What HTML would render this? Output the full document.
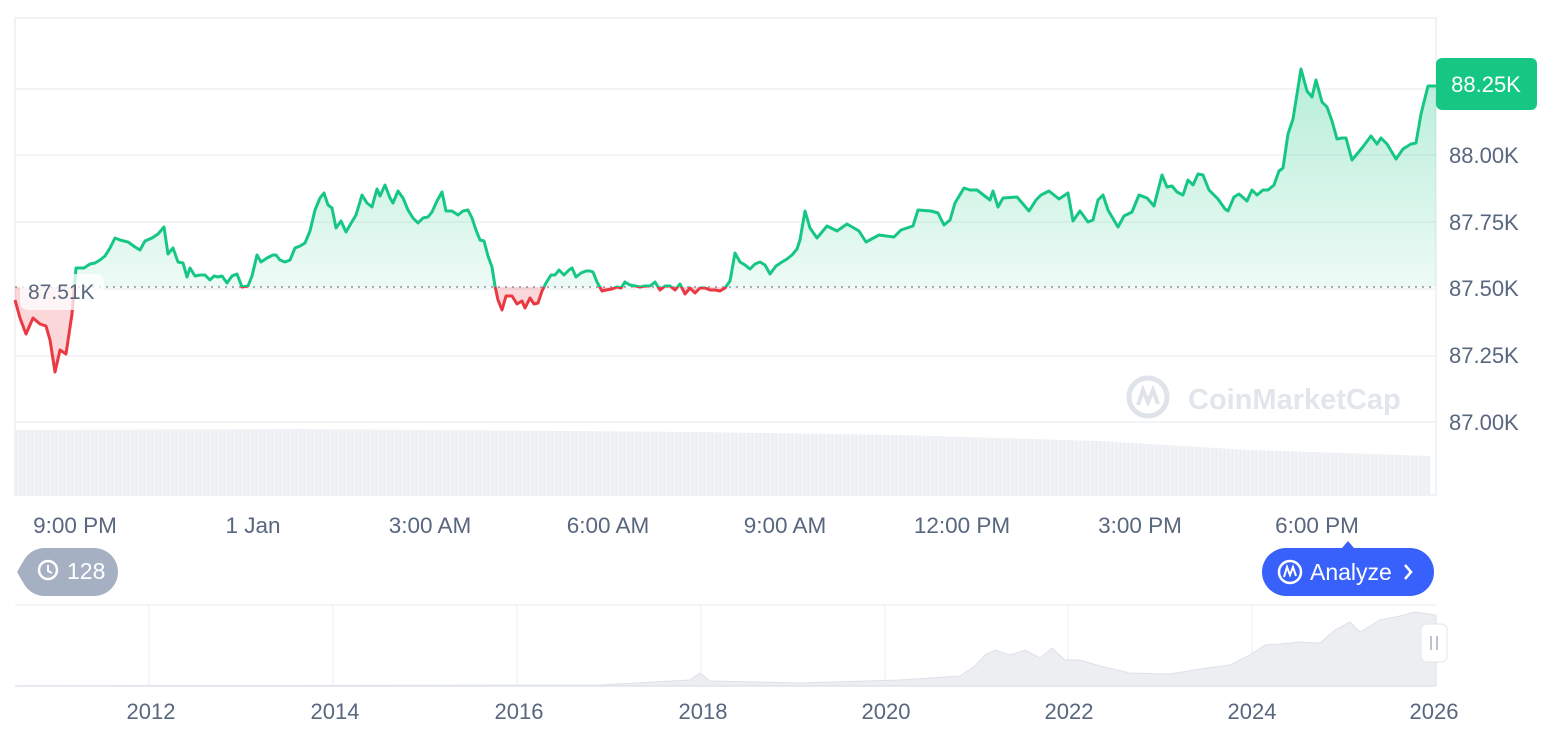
<!DOCTYPE html>
<html><head><meta charset="utf-8"><style>
body{margin:0;background:#fff;width:1566px;height:732px;overflow:hidden;font-family:"Liberation Sans",sans-serif}
</style></head><body>
<svg width="1566" height="732" xmlns="http://www.w3.org/2000/svg" font-family="Liberation Sans, sans-serif">
<defs>
<linearGradient id="gg" x1="0" y1="60" x2="0" y2="287" gradientUnits="userSpaceOnUse"><stop offset="0" stop-color="#16c784" stop-opacity="0.32"/><stop offset="1" stop-color="#16c784" stop-opacity="0.08"/></linearGradient>
<pattern id="vp" x="15" y="0" width="4" height="10" patternUnits="userSpaceOnUse"><rect width="3" height="10" fill="#edf0f3"/><rect x="3" width="1" height="10" fill="#f6f7f9"/></pattern>
<clipPath id="up"><rect x="0" y="0" width="1440" height="287"/></clipPath>
<clipPath id="dn"><rect x="0" y="287" width="1440" height="200"/></clipPath>
<symbol id="ln" overflow="visible"><polyline fill="none" stroke-width="3" stroke-linejoin="round" points="15,300 20,318 26,334 33,318 40,324 46,326 50,340 55,372 60,350 66,354 72,314 76,268 80,268 84,268 90,264 95,263 100,260 105,256 110,248 115,238 120,240 128,242 135,247 140,250 145,241 152,238 158,234 164,227 168,254 173,248 178,262 183,263 187,277 190,268 195,276 200,275 205,275 210,280 214,276 218,277 222,276 227,283 232,276 237,274 242,287 248,286 252,276 257,255 261,262 267,258 273,255 276,255 280,260 285,262 290,260 295,248 300,246 305,243 310,231 315,210 320,198 324,193 328,205 332,208 336,228 341,221 346,232 350,225 356,215 362,195 367,203 372,207 377,189 380,196 385,185 390,198 393,203 398,191 403,198 408,210 413,218 418,223 423,218 428,217 432,212 437,201 442,192 446,211 452,211 458,215 463,211 468,210 472,218 476,230 480,240 484,241 488,256 492,267 495,286 498,300 502,310 506,296 512,296 517,304 522,301 525,308 530,298 534,304 538,303 542,291 546,283 551,275 555,275 559,270 564,275 569,270 572,268 576,277 581,273 586,271 590,271 593,272 597,282 602,291 606,290 612,289 617,287 621,288 625,282 630,285 635,286 640,287 645,286 650,286 655,282 660,290 665,286 670,286 675,290 680,284 685,294 690,288 695,293 700,288 705,288 710,290 715,290 720,291 725,288 730,281 735,253 740,262 745,265 750,269 755,264 760,262 765,265 770,274 776,266 782,262 787,259 792,255 797,249 800,240 805,211 810,228 817,238 827,226 837,231 847,224 859,231 866,242 879,235 894,237 901,230 913,226 918,210 931,211 938,213 944,225 950,220 955,203 964,188 970,190 977,190 990,200 993,191 998,207 1003,198 1017,197 1029,211 1036,200 1041,195 1049,191 1059,199 1068,193 1073,221 1080,211 1088,222 1093,220 1098,200 1103,195 1108,210 1118,227 1124,216 1132,212 1139,195 1147,198 1154,206 1162,175 1167,187 1172,186 1177,192 1183,195 1188,180 1193,185 1198,174 1203,175 1209,190 1218,199 1225,209 1228,211 1234,197 1239,194 1247,201 1252,190 1257,195 1263,190 1268,190 1274,185 1279,171 1283,168 1288,134 1293,119 1301,69 1307,91 1312,97 1316,80 1322,102 1327,107 1332,121 1337,139 1342,138 1346,138 1352,160 1362,148 1371,136 1377,144 1381,138 1387,144 1396,159 1403,149 1411,144 1416,143 1421,114 1428,86 1436,86"/></symbol>
<symbol id="ar" overflow="visible"><polygon points="15,287 15,300 20,318 26,334 33,318 40,324 46,326 50,340 55,372 60,350 66,354 72,314 76,268 80,268 84,268 90,264 95,263 100,260 105,256 110,248 115,238 120,240 128,242 135,247 140,250 145,241 152,238 158,234 164,227 168,254 173,248 178,262 183,263 187,277 190,268 195,276 200,275 205,275 210,280 214,276 218,277 222,276 227,283 232,276 237,274 242,287 248,286 252,276 257,255 261,262 267,258 273,255 276,255 280,260 285,262 290,260 295,248 300,246 305,243 310,231 315,210 320,198 324,193 328,205 332,208 336,228 341,221 346,232 350,225 356,215 362,195 367,203 372,207 377,189 380,196 385,185 390,198 393,203 398,191 403,198 408,210 413,218 418,223 423,218 428,217 432,212 437,201 442,192 446,211 452,211 458,215 463,211 468,210 472,218 476,230 480,240 484,241 488,256 492,267 495,286 498,300 502,310 506,296 512,296 517,304 522,301 525,308 530,298 534,304 538,303 542,291 546,283 551,275 555,275 559,270 564,275 569,270 572,268 576,277 581,273 586,271 590,271 593,272 597,282 602,291 606,290 612,289 617,287 621,288 625,282 630,285 635,286 640,287 645,286 650,286 655,282 660,290 665,286 670,286 675,290 680,284 685,294 690,288 695,293 700,288 705,288 710,290 715,290 720,291 725,288 730,281 735,253 740,262 745,265 750,269 755,264 760,262 765,265 770,274 776,266 782,262 787,259 792,255 797,249 800,240 805,211 810,228 817,238 827,226 837,231 847,224 859,231 866,242 879,235 894,237 901,230 913,226 918,210 931,211 938,213 944,225 950,220 955,203 964,188 970,190 977,190 990,200 993,191 998,207 1003,198 1017,197 1029,211 1036,200 1041,195 1049,191 1059,199 1068,193 1073,221 1080,211 1088,222 1093,220 1098,200 1103,195 1108,210 1118,227 1124,216 1132,212 1139,195 1147,198 1154,206 1162,175 1167,187 1172,186 1177,192 1183,195 1188,180 1193,185 1198,174 1203,175 1209,190 1218,199 1225,209 1228,211 1234,197 1239,194 1247,201 1252,190 1257,195 1263,190 1268,190 1274,185 1279,171 1283,168 1288,134 1293,119 1301,69 1307,91 1312,97 1316,80 1322,102 1327,107 1332,121 1337,139 1342,138 1346,138 1352,160 1362,148 1371,136 1377,144 1381,138 1387,144 1396,159 1403,149 1411,144 1416,143 1421,114 1428,86 1436,86 1436,287"/></symbol>
</defs>
<rect x="15" y="18" width="1421" height="477" fill="#fff" stroke="#eceef1" stroke-width="1.5"/>
<g stroke="#eff1f4" stroke-width="1.5">
<line x1="15" y1="89" x2="1436" y2="89"/><line x1="15" y1="155" x2="1436" y2="155"/><line x1="15" y1="222" x2="1436" y2="222"/><line x1="15" y1="289" x2="1436" y2="289"/><line x1="15" y1="356" x2="1436" y2="356"/><line x1="15" y1="422" x2="1436" y2="422"/>
</g>
<polygon fill="url(#vp)" points="15,430 300,429 700,432 900,435 1100,441 1250,450 1430,456 1430,495 15,495"/>
<g clip-path="url(#up)"><use href="#ar" fill="url(#gg)"/></g>
<g clip-path="url(#dn)"><use href="#ar" fill="#ea3943" fill-opacity="0.2"/></g>
<circle cx="1148" cy="397" r="19" fill="none" stroke="#dfe3ea" stroke-width="5"/>
<path d="M1138,405 L1143,390 L1148,402 L1153,390 L1158,404" fill="none" stroke="#dfe3ea" stroke-width="4"/>
<text x="1188" y="409" font-size="29" font-weight="bold" fill="#e1e5ec">CoinMarketCap</text>
<line x1="15" y1="287" x2="1436" y2="287" stroke="#8a919e" stroke-width="1.5" stroke-dasharray="2,5"/>
<g clip-path="url(#up)"><use href="#ln" stroke="#16c784"/></g>
<g clip-path="url(#dn)"><use href="#ln" stroke="#ea3943"/></g>
<rect x="20" y="274" width="84" height="36" rx="8" fill="#fff" opacity="0.75"/>
<text x="28" y="299" font-size="21" fill="#58667e">87.51K</text>
<g font-size="22" fill="#58667e">
<text x="1449" y="163">88.00K</text><text x="1449" y="230">87.75K</text><text x="1449" y="296">87.50K</text><text x="1449" y="363">87.25K</text><text x="1449" y="430">87.00K</text>
</g>
<rect x="1436" y="58" width="101" height="52" rx="6" fill="#16c784"/>
<text x="1486" y="92" font-size="22" fill="#fff" text-anchor="middle">88.25K</text>
<g font-size="22.5" fill="#58667e" text-anchor="middle">
<text x="75" y="533">9:00 PM</text><text x="253" y="533">1 Jan</text><text x="430" y="533">3:00 AM</text><text x="608" y="533">6:00 AM</text><text x="785" y="533">9:00 AM</text><text x="962" y="533">12:00 PM</text><text x="1140" y="533">3:00 PM</text><text x="1317" y="533">6:00 PM</text>
</g>
<path d="M44,548 H94 A24,24 0 0 1 94,596 H44 A24,24 0 0 1 24,584 L17,572 L24,560 A24,24 0 0 1 44,548Z" fill="#a6b0c3"/>
<circle cx="48" cy="570" r="9" fill="none" stroke="#fff" stroke-width="2.5"/>
<path d="M48,565 V571 L52,573" stroke="#fff" stroke-width="2" fill="none"/>
<text x="67" y="579" font-size="23" fill="#fff">128</text>
<path d="M1342,548 L1348,541 L1354,548Z" fill="#3861fb"/>
<rect x="1262" y="548" width="172" height="48" rx="24" fill="#3861fb"/>
<circle cx="1290" cy="572" r="11" fill="none" stroke="#fff" stroke-width="2.5"/>
<path d="M1284,577 L1287,567 L1290,575 L1293,567 L1296,576" fill="none" stroke="#fff" stroke-width="2"/>
<text x="1310" y="580" font-size="23" fill="#fff">Analyze</text>
<path d="M1405,565 L1411,572 L1405,579" stroke="#fff" stroke-width="2.5" fill="none"/>
<line x1="15" y1="605" x2="1436" y2="605" stroke="#eff1f4" stroke-width="1.5"/>
<g stroke="#f0f2f5" stroke-width="1.5">
<line x1="149" y1="605" x2="149" y2="686"/><line x1="333" y1="605" x2="333" y2="686"/><line x1="517" y1="605" x2="517" y2="686"/><line x1="701" y1="605" x2="701" y2="686"/><line x1="885" y1="605" x2="885" y2="686"/><line x1="1068" y1="605" x2="1068" y2="686"/><line x1="1252" y1="605" x2="1252" y2="686"/>
</g>
<polygon fill="#eceef2" stroke="#dde1e7" stroke-width="1" points="15,686 600,685 690,680 700,673 710,681 800,683 900,680 960,676 975,666 985,655 995,650 1010,655 1025,650 1040,658 1052,648 1065,660 1080,660 1100,666 1130,673 1170,674 1200,669 1230,665 1250,655 1265,645 1280,644 1300,642 1320,643 1335,630 1350,622 1360,632 1380,620 1400,616 1415,612 1436,615 1436,686"/>
<line x1="15" y1="686" x2="1436" y2="686" stroke="#dfe3ea" stroke-width="1.5"/>
<rect x="1421" y="624" width="26" height="38" rx="6" fill="#fff" stroke="#e2e5ea"/>
<line x1="1431" y1="636" x2="1431" y2="650" stroke="#a6b0c3" stroke-width="1.5"/><line x1="1437" y1="636" x2="1437" y2="650" stroke="#a6b0c3" stroke-width="1.5"/>
<g font-size="22" fill="#58667e" text-anchor="middle">
<text x="151" y="719">2012</text><text x="335" y="719">2014</text><text x="519" y="719">2016</text><text x="703" y="719">2018</text><text x="886" y="719">2020</text><text x="1069" y="719">2022</text><text x="1252" y="719">2024</text><text x="1434" y="719">2026</text>
</g>
</svg>
</body></html>
